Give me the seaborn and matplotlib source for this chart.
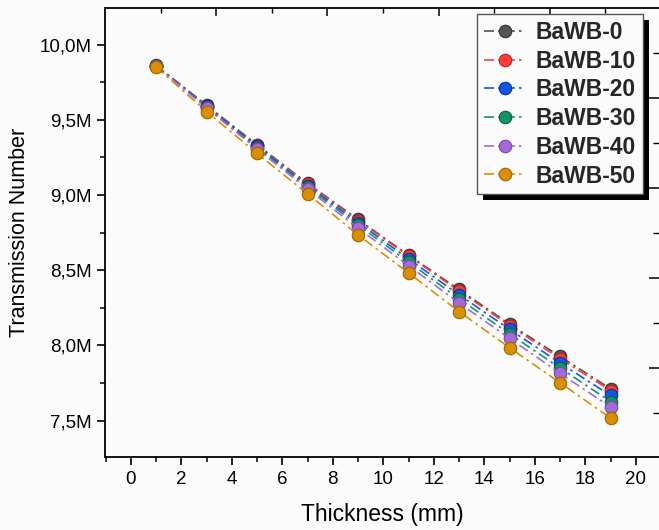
import numpy as np
import pandas as pd
import seaborn as sns
import matplotlib
matplotlib.use("Agg")
import matplotlib.pyplot as plt
from matplotlib.ticker import MultipleLocator, FuncFormatter, FixedLocator
from matplotlib.patches import Rectangle
from matplotlib.transforms import IdentityTransform

# ---- data (values in millions) ----
thickness = [1, 3, 5, 7, 9, 11, 13, 15, 17, 19]
samples = ["BaWB-0", "BaWB-10", "BaWB-20", "BaWB-30", "BaWB-40", "BaWB-50"]
bawb_0  = [9.862, 9.598, 9.335, 9.078, 8.838, 8.600, 8.372, 8.142, 7.927, 7.712]
bawb_10 = [9.860, 9.595, 9.330, 9.072, 8.830, 8.595, 8.362, 8.132, 7.912, 7.700]
bawb_20 = [9.860, 9.590, 9.325, 9.062, 8.817, 8.575, 8.337, 8.107, 7.883, 7.667]
bawb_30 = [9.858, 9.585, 9.315, 9.052, 8.800, 8.555, 8.310, 8.077, 7.850, 7.627]
bawb_40 = [9.857, 9.578, 9.305, 9.040, 8.780, 8.530, 8.282, 8.047, 7.815, 7.590]
bawb_50 = [9.852, 9.555, 9.277, 9.008, 8.735, 8.482, 8.225, 7.985, 7.752, 7.517]
colors = ["#555555", "#ff3b3b", "#1357e0", "#10956a", "#a66ad8", "#d98f00"]
edge_colors = ["#333333", "#c41e1e", "#0a338f", "#0a5e43", "#7a45a8", "#9c6500"]

series = [bawb_0, bawb_10, bawb_20, bawb_30, bawb_40, bawb_50]
df = pd.DataFrame({
    "Thickness": np.tile(thickness, len(samples)),
    "Transmission": np.concatenate([np.array(s) * 1e6 for s in series]),
    "Sample": np.repeat(samples, len(thickness)),
})

sns.set_theme(style="ticks")
plt.rcParams["font.family"] = ["Liberation Sans", "DejaVu Sans"]

W, H = 659, 530
fig = plt.figure(figsize=(W / 100, H / 100), dpi=100)
fig.patch.set_facecolor("#fbfbfb")

left_px, right_px, top_px, bot_px = 105.5, 659.0, 8.1, 456.7
ax = fig.add_axes([left_px / W, 1 - bot_px / H, (right_px - left_px) / W, (bot_px - top_px) / H])
ax.set_facecolor("#fbfbfb")

sns.lineplot(data=df, x="Thickness", y="Transmission", hue="Sample",
             palette=dict(zip(samples, colors)), hue_order=samples,
             marker="o", markersize=9, linewidth=1.2,
             linestyle=(0, (6, 2.5, 1.5, 2.5)),
             markeredgewidth=0.8, ax=ax, legend=False)

for line, ec in zip(ax.lines, edge_colors):
    line.set_markeredgecolor(ec)

ax.set_xlim(-1, -1 + (right_px - left_px) / 25.25)
ax.set_ylim(7.26e6, 10.2427e6)

ax.xaxis.set_major_locator(MultipleLocator(2))
ax.xaxis.set_minor_locator(MultipleLocator(1))
ax.yaxis.set_major_locator(MultipleLocator(0.5e6))
ax.yaxis.set_minor_locator(MultipleLocator(0.25e6))
ax.yaxis.set_major_formatter(FuncFormatter(lambda v, p: f"{v/1e6:.1f}M".replace(".", ",")))

ax.tick_params(axis="both", which="major", direction="out", length=6, width=1.2,
               labelsize=13.5, colors="black", pad=4)
ax.tick_params(axis="both", which="minor", direction="out", length=3.5, width=1.1, colors="black")

for s in ["left", "bottom", "top"]:
    ax.spines[s].set_linewidth(1.3)
    ax.spines[s].set_color("black")
ax.spines["right"].set_visible(False)

ax.set_xlabel("Thickness (mm)", fontsize=16.5, labelpad=11, color="black")
ax.set_ylabel("Transmission Number", fontsize=15.5, labelpad=7, color="black")

# top ticks (inward)
tx = ax.twiny()
tx.set_xlim(ax.get_xlim())
tx.xaxis.set_major_locator(FixedLocator([3.37, 7.77, 12.19, 16.59]))
tx.xaxis.set_minor_locator(FixedLocator([1.18, 5.59, 9.99, 14.37, 18.78]))
tx.tick_params(axis="x", which="major", direction="in", length=6, width=1.1, labeltop=False, colors="black")
tx.tick_params(axis="x", which="minor", direction="in", length=3.5, width=1.0, colors="black")
for s in tx.spines.values():
    s.set_visible(False)

# right ticks (inward)
ty = ax.twinx()
ty.set_ylim(ax.get_ylim())
ty.yaxis.set_major_locator(FixedLocator([9.645e6, 9.047e6, 8.448e6, 7.850e6]))
ty.yaxis.set_minor_locator(FixedLocator([9.944e6, 9.346e6, 8.748e6, 8.149e6, 7.551e6]))
ty.tick_params(axis="y", which="major", direction="in", length=7, width=1.1, labelright=False, pad=0, colors="black")
ty.tick_params(axis="y", which="minor", direction="in", length=4, width=1.0, colors="black")
for s in ty.spines.values():
    s.set_visible(False)

# legend
handles = ax.lines[:len(samples)]
leg = ty.legend(handles, samples, loc="upper right",
                bbox_to_anchor=((643 - left_px) / (right_px - left_px), 1 - (14 - top_px) / (bot_px - top_px)),
                borderaxespad=0, frameon=True, fancybox=False, framealpha=1,
                edgecolor="#555555", facecolor="#fbfbfb",
                prop={"weight": "bold", "size": 16.5},
                handlelength=1.8, handletextpad=0.45, labelspacing=0.25,
                borderpad=0.3, markerscale=1.0)
leg.get_frame().set_linewidth(1.0)
leg.set_zorder(10)

fig.canvas.draw()
bb = leg.get_window_extent()
shadow = Rectangle((bb.x0 + 6, bb.y0 - 6), bb.width, bb.height, transform=IdentityTransform(),
                   facecolor="black", edgecolor="none", zorder=9, clip_on=False)
ty.add_patch(shadow)

fig.savefig("out.png", dpi=100, facecolor=fig.get_facecolor())
